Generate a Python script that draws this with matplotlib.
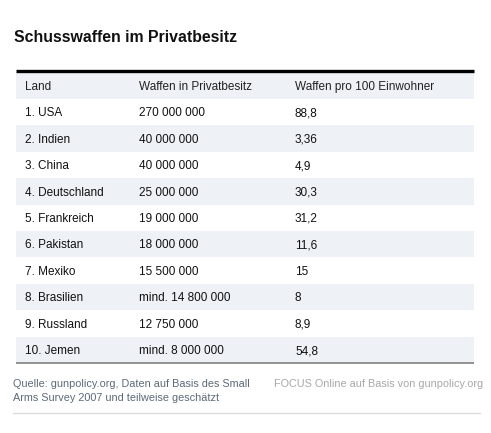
import matplotlib
matplotlib.use("Agg")
import matplotlib.pyplot as plt
from matplotlib.patches import Rectangle

# Tabellendaten
laender = ["1. USA", "2. Indien", "3. China", "4. Deutschland", "5. Frankreich",
           "6. Pakistan", "7. Mexiko", "8. Brasilien", "9. Russland", "10. Jemen"]
waffen = ["270 000 000", "40 000 000", "40 000 000", "25 000 000", "19 000 000",
          "18 000 000", "15 500 000", "mind. 14 800 000", "12 750 000", "mind. 8 000 000"]
pro_100 = ["88,8", "3,36", "4,9", "30,3", "31,2", "11,6", "15", "8", "8,9", "54,8"]
kopf = ["Land", "Waffen in Privatbesitz", "Waffen pro 100 Einwohner"]

titel = "Schusswaffen im Privatbesitz"
quelle = "Quelle: gunpolicy.org, Daten auf Basis des Small\nArms Survey 2007 und teilweise geschätzt"
credit = "FOCUS Online auf Basis von gunpolicy.org"

plt.rcParams["font.family"] = ["Liberation Sans", "DejaVu Sans"]

W, H = 491, 433
fig = plt.figure(figsize=(W / 100, H / 100), dpi=100)
ax = fig.add_axes([0, 0, 1, 1])
ax.set_xlim(0, W)
ax.set_ylim(H, 0)
ax.axis("off")

links, rechts = 16, 474
spalten_x = [25, 139, 295]
kopf_oben, kopf_h = 72, 27
zeile_h = 26.4
schatten = "#eef1f5"
fs = 8.5
base = 4.2  # Abstand Mitte -> Grundlinie

ax.text(14, 42, titel, fontsize=11.4, fontweight="bold", color="#111111", va="baseline")

# Kopfzeile
ax.add_patch(Rectangle((links, kopf_oben), rechts - links, kopf_h, color=schatten, lw=0))
ax.plot([links, rechts], [kopf_oben - 1, kopf_oben - 1], color="black", lw=2.4,
        solid_capstyle="butt")
for x, t in zip(spalten_x, kopf):
    ax.text(x, kopf_oben + kopf_h / 2 + base, t, fontsize=fs, color="#222222", va="baseline")

# Zeilen
start = kopf_oben + kopf_h
for i, (l, w, p) in enumerate(zip(laender, waffen, pro_100)):
    y0 = start + i * zeile_h
    if i % 2 == 1:
        ax.add_patch(Rectangle((links, y0), rechts - links, zeile_h, color=schatten, lw=0))
    for x, t in zip(spalten_x, [l, w, p]):
        ax.text(x, y0 + zeile_h / 2 + base, t, fontsize=fs, color="#111111", va="baseline")

unten = start + len(laender) * zeile_h
ax.plot([links, rechts], [unten, unten], color="#808080", lw=1.2, solid_capstyle="butt")

# Fußnoten
ax.text(13, 387, quelle.split("\n")[0], fontsize=7.8, color="#5c6a78", va="baseline")
ax.text(13, 401, quelle.split("\n")[1], fontsize=7.8, color="#5c6a78", va="baseline")
ax.text(274, 387, credit, fontsize=7.8, color="#a8a8a8", va="baseline")
ax.plot([13, 480], [413, 413], color="#dddddd", lw=1)

fig.savefig("out.png", dpi=100)
